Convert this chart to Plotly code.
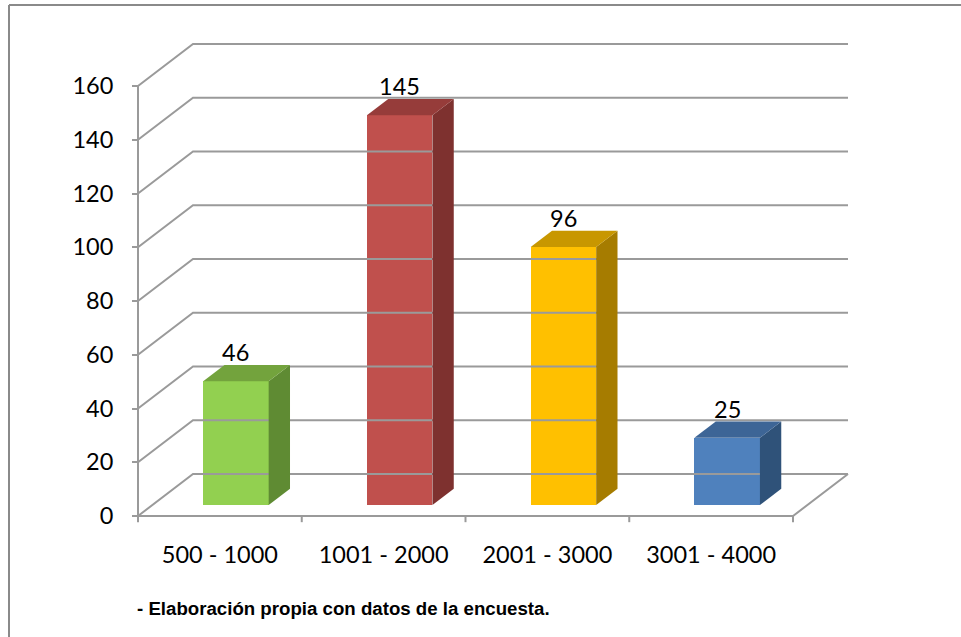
import plotly.graph_objects as go

# ---- data ----
categories = ["500 - 1000", "1001 - 2000", "2001 - 3000", "3001 - 4000"]
values = [46, 145, 96, 25]
y_ticks = [0, 20, 40, 60, 80, 100, 120, 140, 160]
front_colors = ["#92D050", "#C0504D", "#FFC000", "#4F81BD"]
side_colors = ["#5F8B33", "#7E312F", "#A67C00", "#2F5279"]
top_colors = ["#73A33D", "#963C3A", "#C89700", "#3D6596"]
footer = "- Elaboración propia con datos de la encuesta."

# ---- 3D projection parameters (in axis units) ----
DX = 0.3359   # full depth shift along x (category units)
DY = 15.63    # full depth shift along y (value units)
d0, d1 = 0.262, 0.65   # bar depth (front / back fraction)
HALF_W = 0.20
CENTER = 0.51
GRID = "#9A9A9A"
N = len(categories)
FONT = "Lato"
FS = 23.5

fig = go.Figure()

# back wall gridlines with left-wall diagonals
gx, gy = [], []
for t in y_ticks:
    gx += [0, DX, N + DX, None]
    gy += [t, t + DY, t + DY, None]
# floor front edge + right edge
gx += [0, N, N + DX, None]
gy += [0, 0, DY, None]
# y axis line
gx += [0, 0, None]
gy += [0, max(y_ticks), None]
# x tick marks at category boundaries
for i in range(N + 1):
    gx += [i, i, None]
    gy += [0, -2.3, None]
fig.add_trace(go.Scatter(x=gx, y=gy, mode="lines",
                         line=dict(color=GRID, width=2),
                         hoverinfo="skip", showlegend=False))

sdx = (d1 - d0) * DX
sdy = (d1 - d0) * DY
base = d0 * DY
for i, v in enumerate(values):
    xc = i + CENTER + d0 * DX
    xl, xr = xc - HALF_W, xc + HALF_W
    top = v + base
    # side face
    fig.add_trace(go.Scatter(
        x=[xr, xr + sdx, xr + sdx, xr, xr],
        y=[base, base + sdy, top + sdy, top, base],
        mode="lines", fill="toself", fillcolor=side_colors[i],
        line=dict(width=0, color=side_colors[i]),
        hoverinfo="skip", showlegend=False))
    # top face
    fig.add_trace(go.Scatter(
        x=[xl, xr, xr + sdx, xl + sdx, xl],
        y=[top, top, top + sdy, top + sdy, top],
        mode="lines", fill="toself", fillcolor=top_colors[i],
        line=dict(width=0, color=top_colors[i]),
        hoverinfo="skip", showlegend=False))

# front faces as bars
fig.add_trace(go.Bar(
    x=[i + CENTER + d0 * DX for i in range(N)],
    y=values, base=[base] * N, width=2 * HALF_W,
    marker=dict(color=front_colors, line=dict(width=0)),
    hoverinfo="skip", showlegend=False))

# data labels
for i, v in enumerate(values):
    fig.add_annotation(x=i + CENTER + d0 * DX, y=v + d1 * DY, text=str(v),
                       showarrow=False, yanchor="bottom", yshift=-3,
                       font=dict(family=FONT, size=FS, color="black"))

# footer
fig.add_annotation(xref="paper", yref="paper", x=(135 - 120) / 735, y=(527 - 608) / 487,
                   xanchor="left", yanchor="middle", text=footer, showarrow=False,
                   font=dict(family="Liberation Sans, Arial", size=18.67, color="black",
                             weight="bold"))

# outer frame (left + top)
fx = (9 - 120) / 735
fy = (527 - 5) / 487
fig.add_shape(type="line", xref="paper", yref="paper", x0=fx, x1=fx, y0=fy, y1=-0.3,
              line=dict(color="#8A8A8A", width=2))
fig.add_shape(type="line", xref="paper", yref="paper", x0=fx, x1=1.3, y0=fy, y1=fy,
              line=dict(color="#8A8A8A", width=2))

PX_X = 163.75
PX_Y = 2.6875
xmin = -(138 - 120) / PX_X
xmax = xmin + 735 / PX_X
ymin = -(527 - 516) / PX_Y
ymax = ymin + 487 / PX_Y

fig.update_layout(
    width=961, height=637,
    margin=dict(l=120, r=106, t=40, b=110),
    paper_bgcolor="white", plot_bgcolor="white",
    bargap=0,
    hovermode=False,
    xaxis=dict(range=[xmin, xmax], showgrid=False, zeroline=False, showline=False,
               tickmode="array", tickvals=[i + 0.5 for i in range(N)], ticktext=categories,
               ticks="", ticklabelstandoff=11,
               tickfont=dict(family=FONT, size=FS, color="black"), fixedrange=True),
    yaxis=dict(range=[ymin, ymax], showgrid=False, zeroline=False, showline=False,
               anchor="free", position=(138 - 120) / 735,
               tickmode="array", tickvals=y_ticks,
               ticks="outside", ticklen=6, tickcolor=GRID, tickwidth=2,
               ticklabelstandoff=14,
               tickfont=dict(family=FONT, size=FS, color="black"), fixedrange=True),
)

fig.write_html("out.html",
               config={"displayModeBar": False},
               post_script="document.body.style.margin='0';document.body.style.overflow='hidden';")
